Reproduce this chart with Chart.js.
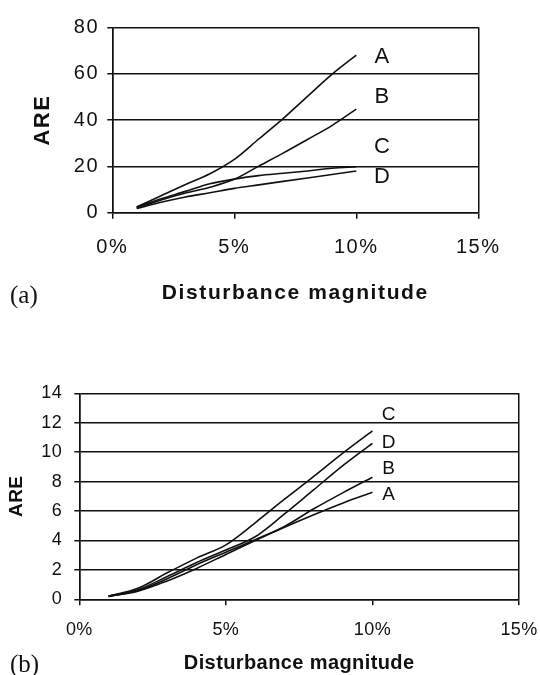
<!DOCTYPE html>
<html>
<head>
<meta charset="utf-8">
<script src="https://cdn.jsdelivr.net/npm/chart.js@4.4.1/dist/chart.umd.min.js"></script>
<style>
  html, body { margin: 0; padding: 0; background: #fff; }
  #page { position: relative; width: 540px; height: 675px; overflow: hidden; }
  canvas { position: absolute; left: 0; }
  .panel { position: absolute; left: 10px; font-family: 'Liberation Serif', 'Times New Roman', serif; font-size: 25px; line-height: 1; color: #111; }
</style>
</head>
<body>
<div id="page">
  <canvas id="chartTop" width="540" height="320" style="top:0"></canvas>
  <canvas id="chartBottom" width="540" height="345" style="top:330px"></canvas>
  <div class="panel" style="top:282px">(a)</div>
  <div class="panel" style="top:651px">(b)</div>
</div>
<script>
// disturbance magnitude in percent, same for every curve
var magnitudes = [1, 2, 3, 4, 5, 6, 7, 8, 9, 10];
var xTicks = [0, 5, 10, 15];

// (a) ARE per method
var topA = [2.5, 7.3, 12.2, 16.8, 23, 31.8, 40.6, 50.2, 59.7, 68];
var topB = [2, 5.5, 8.5, 11, 14.4, 20.1, 25.7, 31.6, 37.6, 44.7];
var topC = [2.5, 6, 9.2, 12.5, 14.5, 16, 17, 18, 19.2, 19.8];
var topD = [1.8, 4.5, 6.8, 8.6, 10.5, 12, 13.5, 15, 16.5, 18];

// (b) ARE per method
var bottomA = [0.2, 0.55, 1.25, 2.1, 3.05, 4.0, 4.9, 5.75, 6.55, 7.27];
var bottomB = [0.2, 0.6, 1.4, 2.35, 3.2, 4.05, 4.95, 6.15, 7.25, 8.3];
var bottomC = [0.22, 0.75, 1.8, 2.8, 3.7, 5.2, 6.8, 8.35, 9.95, 11.45];
var bottomD = [0.2, 0.65, 1.55, 2.5, 3.35, 4.25, 5.8, 7.45, 9.1, 10.6];

var FONT = "'Liberation Sans', Arial, sans-serif";
var INK = '#111';

// the printed lettering is a bit looser than plain Arial
var spacing = {
  id: 'spacing',
  beforeDraw: function(chart, args, opts) {
    chart.ctx.letterSpacing = opts.px + 'px';
  }
};

// writes A/B/C/D next to the curve ends
var curveNames = {
  id: 'curveNames',
  afterDatasetsDraw: function(chart, args, opts) {
    var ctx = chart.ctx;
    var x = chart.scales.x, y = chart.scales.y;
    ctx.save();
    ctx.letterSpacing = '0px';
    ctx.font = opts.size + 'px ' + FONT;
    ctx.fillStyle = INK;
    ctx.textAlign = 'center';
    ctx.textBaseline = 'middle';
    opts.items.forEach(function(it) {
      ctx.fillText(it.text, x.getPixelForValue(opts.at), y.getPixelForValue(it.y));
    });
    ctx.restore();
  }
};

function toPoints(values) {
  return values.map(function(v, i) { return {x: magnitudes[i], y: v}; });
}

function drawPanel(id, series, s) {
  var datasets = series.map(function(vals) {
    return {
      data: toPoints(vals),
      borderColor: INK,
      borderWidth: 1.6,
      pointRadius: 0,
      fill: false,
      cubicInterpolationMode: 'monotone'
    };
  });
  return new Chart(document.getElementById(id), {
    type: 'line',
    data: { datasets: datasets },
    plugins: [spacing, curveNames],
    options: {
      responsive: false,
      animation: false,
      layout: { padding: { top: s.top, right: s.right, left: 0, bottom: 0 } },
      plugins: {
        legend: { display: false },
        tooltip: { enabled: false },
        spacing: { px: s.spacing },
        curveNames: s.names
      },
      scales: {
        x: {
          type: 'linear',
          min: 0, max: 15,
          afterBuildTicks: function(scale) {
            scale.ticks = xTicks.map(function(v) { return {value: v}; });
          },
          afterFit: function(scale) {
            scale.height = s.xHeight;
            scale.paddingLeft = 0;
            scale.paddingRight = 0;
          },
          ticks: {
            callback: function(v) { return v + '%'; },
            color: INK,
            font: { family: FONT, size: s.tickSize },
            padding: s.xTickPad,
            maxRotation: 0
          },
          grid: {
            color: function(c) { return (c.tick && (c.tick.value === 0 || c.tick.value === 15)) ? INK : 'rgba(0,0,0,0)'; },
            tickColor: INK,
            tickLength: 6,
            lineWidth: 1.5
          },
          border: { display: true, color: INK, width: 1.5 },
          title: {
            display: true,
            text: 'Disturbance magnitude',
            color: INK,
            font: { family: FONT, size: s.titleSize, weight: 'bold' },
            padding: { top: 0, bottom: s.xTitlePad }
          }
        },
        y: {
          min: 0, max: s.yMax,
          afterFit: function(scale) {
            scale.width = s.yWidth;
            scale.paddingTop = 0;
            scale.paddingBottom = 0;
          },
          ticks: {
            stepSize: s.yStep,
            color: INK,
            font: { family: FONT, size: s.tickSize },
            padding: s.yTickPad
          },
          grid: { color: INK, tickColor: INK, tickLength: 5, lineWidth: 1.5 },
          border: { display: true, color: INK, width: 1.5 },
          title: {
            display: true,
            text: 'ARE',
            color: INK,
            font: { family: FONT, size: s.yTitleSize, weight: 'bold' },
            padding: { top: s.yTitlePad, bottom: 0 }
          }
        }
      }
    }
  });
}

drawPanel('chartTop', [topA, topB, topC, topD], {
  top: 27.3, right: 61.7, yWidth: 112.3, xHeight: 107.3,
  yMax: 80, yStep: 20, spacing: 1.6,
  tickSize: 20, xTickPad: 17, yTickPad: 8,
  titleSize: 21, xTitlePad: 14.4,
  yTitleSize: 22, yTitlePad: 29.8,
  names: { size: 22, at: 11.05, items: [
    {text: 'A', y: 67.3}, {text: 'B', y: 49.8}, {text: 'C', y: 28.5}, {text: 'D', y: 15.5}
  ] }
});

drawPanel('chartBottom', [bottomA, bottomB, bottomC, bottomD], {
  top: 63.3, right: 21, yWidth: 79.3, xHeight: 75.7,
  yMax: 14, yStep: 2, spacing: 0.4,
  tickSize: 18, xTickPad: 13.9, yTickPad: 12.2,
  titleSize: 20, xTitlePad: 0,
  yTitleSize: 19, yTitlePad: 5.6,
  names: { size: 19, at: 10.55, items: [
    {text: 'C', y: 12.53}, {text: 'D', y: 10.65}, {text: 'B', y: 8.84}, {text: 'A', y: 7.09}
  ] }
});
</script>
</body>
</html>
